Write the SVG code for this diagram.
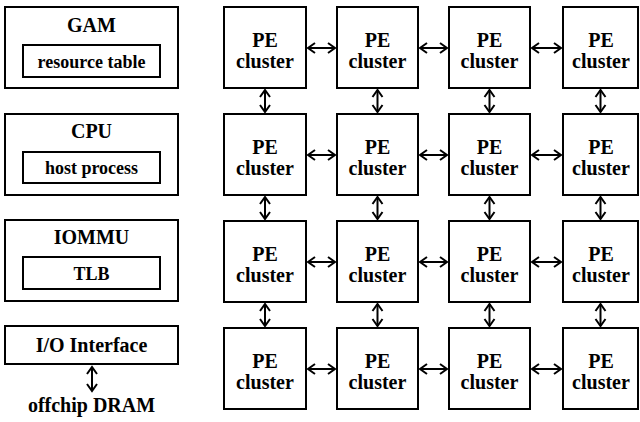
<svg xmlns="http://www.w3.org/2000/svg" width="640" height="422" viewBox="0 0 640 422">
<style>
.box{fill:#fff;stroke:#000;stroke-width:2}
.t{font-family:'Liberation Serif','Times New Roman',serif;font-weight:bold;font-size:20px;text-anchor:middle;fill:#000}
.s{font-size:18px}
.c{stroke:#000;stroke-width:2;fill:none;marker-start:url(#ah);marker-end:url(#ah)}
</style>
<defs>
<marker id="ah" markerUnits="userSpaceOnUse" markerWidth="12" markerHeight="14" viewBox="0 0 12 14" refX="10" refY="7" orient="auto-start-reverse">
<path d="M3,2 L10,7 L3,12" fill="none" stroke="#000" stroke-width="2"/>
</marker>
</defs>
<rect width="640" height="422" fill="#fff"/>
<g id="gam">
<rect class="box" x="5" y="7" width="173" height="81"/>
<text class="t" x="91.5" y="31.5">GAM</text>
<rect class="box" x="23" y="45" width="137" height="32"/>
<text class="t s" x="91.5" y="68">resource table</text>
</g>
<g id="cpu">
<rect class="box" x="5" y="114" width="173" height="81"/>
<text class="t" x="91.5" y="138">CPU</text>
<rect class="box" x="23" y="152" width="137" height="31"/>
<text class="t s" x="91.5" y="174">host process</text>
</g>
<g id="iommu">
<rect class="box" x="5" y="220" width="173" height="81"/>
<text class="t" x="91.5" y="244">IOMMU</text>
<rect class="box" x="23" y="257" width="137" height="32"/>
<text class="t s" x="91.5" y="280">TLB</text>
</g>
<g id="io">
<rect class="box" x="5" y="326" width="173" height="38"/>
<text class="t" x="91.5" y="352">I/O Interface</text>
</g>
<g id="dram">
<text class="t" x="91.5" y="411.5">offchip DRAM</text>
</g>
<g id="pe-grid">
<g id="pe-1-1"><rect class="box" x="224" y="7" width="82" height="81"/><text class="t" x="265" y="46.5">PE</text><text class="t" x="265" y="68">cluster</text></g>
<g id="pe-1-2"><rect class="box" x="337" y="7" width="81" height="81"/><text class="t" x="377.5" y="46.5">PE</text><text class="t" x="377.5" y="68">cluster</text></g>
<g id="pe-1-3"><rect class="box" x="449" y="7" width="81" height="81"/><text class="t" x="489.5" y="46.5">PE</text><text class="t" x="489.5" y="68">cluster</text></g>
<g id="pe-1-4"><rect class="box" x="563" y="7" width="75" height="81"/><text class="t" x="601" y="46.5">PE</text><text class="t" x="601" y="68">cluster</text></g>
<g id="pe-2-1"><rect class="box" x="224" y="114" width="82" height="81"/><text class="t" x="265" y="153.5">PE</text><text class="t" x="265" y="175">cluster</text></g>
<g id="pe-2-2"><rect class="box" x="337" y="114" width="81" height="81"/><text class="t" x="377.5" y="153.5">PE</text><text class="t" x="377.5" y="175">cluster</text></g>
<g id="pe-2-3"><rect class="box" x="449" y="114" width="81" height="81"/><text class="t" x="489.5" y="153.5">PE</text><text class="t" x="489.5" y="175">cluster</text></g>
<g id="pe-2-4"><rect class="box" x="563" y="114" width="75" height="81"/><text class="t" x="601" y="153.5">PE</text><text class="t" x="601" y="175">cluster</text></g>
<g id="pe-3-1"><rect class="box" x="224" y="221" width="82" height="81"/><text class="t" x="265" y="260.5">PE</text><text class="t" x="265" y="282">cluster</text></g>
<g id="pe-3-2"><rect class="box" x="337" y="221" width="81" height="81"/><text class="t" x="377.5" y="260.5">PE</text><text class="t" x="377.5" y="282">cluster</text></g>
<g id="pe-3-3"><rect class="box" x="449" y="221" width="81" height="81"/><text class="t" x="489.5" y="260.5">PE</text><text class="t" x="489.5" y="282">cluster</text></g>
<g id="pe-3-4"><rect class="box" x="563" y="221" width="75" height="81"/><text class="t" x="601" y="260.5">PE</text><text class="t" x="601" y="282">cluster</text></g>
<g id="pe-4-1"><rect class="box" x="224" y="328" width="82" height="81"/><text class="t" x="265" y="367.5">PE</text><text class="t" x="265" y="389">cluster</text></g>
<g id="pe-4-2"><rect class="box" x="337" y="328" width="81" height="81"/><text class="t" x="377.5" y="367.5">PE</text><text class="t" x="377.5" y="389">cluster</text></g>
<g id="pe-4-3"><rect class="box" x="449" y="328" width="81" height="81"/><text class="t" x="489.5" y="367.5">PE</text><text class="t" x="489.5" y="389">cluster</text></g>
<g id="pe-4-4"><rect class="box" x="563" y="328" width="75" height="81"/><text class="t" x="601" y="367.5">PE</text><text class="t" x="601" y="389">cluster</text></g>
</g>
<g id="connectors">
<line class="c" x1="92" y1="367" x2="92" y2="391"/>
<line class="c" x1="308" y1="48" x2="335" y2="48"/>
<line class="c" x1="420" y1="48" x2="447" y2="48"/>
<line class="c" x1="532" y1="48" x2="561" y2="48"/>
<line class="c" x1="308" y1="155" x2="335" y2="155"/>
<line class="c" x1="420" y1="155" x2="447" y2="155"/>
<line class="c" x1="532" y1="155" x2="561" y2="155"/>
<line class="c" x1="308" y1="262" x2="335" y2="262"/>
<line class="c" x1="420" y1="262" x2="447" y2="262"/>
<line class="c" x1="532" y1="262" x2="561" y2="262"/>
<line class="c" x1="308" y1="369" x2="335" y2="369"/>
<line class="c" x1="420" y1="369" x2="447" y2="369"/>
<line class="c" x1="532" y1="369" x2="561" y2="369"/>
<line class="c" x1="265" y1="90" x2="265" y2="112"/>
<line class="c" x1="377.5" y1="90" x2="377.5" y2="112"/>
<line class="c" x1="489.5" y1="90" x2="489.5" y2="112"/>
<line class="c" x1="600.5" y1="90" x2="600.5" y2="112"/>
<line class="c" x1="265" y1="197" x2="265" y2="219"/>
<line class="c" x1="377.5" y1="197" x2="377.5" y2="219"/>
<line class="c" x1="489.5" y1="197" x2="489.5" y2="219"/>
<line class="c" x1="600.5" y1="197" x2="600.5" y2="219"/>
<line class="c" x1="265" y1="304" x2="265" y2="326"/>
<line class="c" x1="377.5" y1="304" x2="377.5" y2="326"/>
<line class="c" x1="489.5" y1="304" x2="489.5" y2="326"/>
<line class="c" x1="600.5" y1="304" x2="600.5" y2="326"/>
</g>
</svg>
